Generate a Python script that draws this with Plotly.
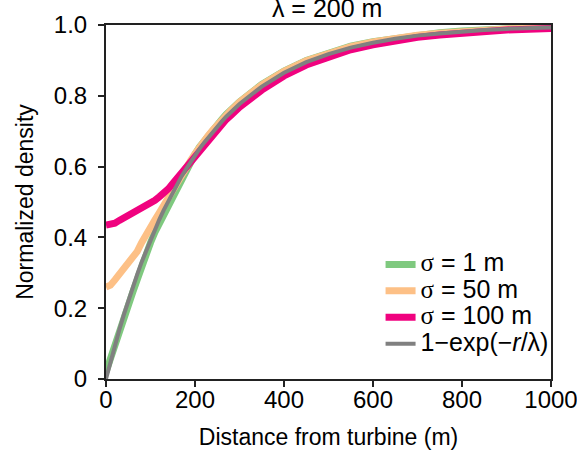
import plotly.graph_objects as go

# distance from turbine (m)
r = [0, 10, 20, 30, 40, 50, 60, 70, 80, 90, 100, 110, 120, 130, 140, 150,
     160, 170, 180, 190, 200, 210, 220, 230, 240, 250, 260, 270, 280, 290, 300,
     350, 400, 450, 500, 550, 600, 650, 700, 750, 800, 850, 900, 950, 1000]

sigma1 = [0.02, 0.06, 0.09, 0.13, 0.165, 0.21, 0.245, 0.28, 0.32, 0.35, 0.385,
          0.415, 0.44, 0.47, 0.495, 0.52, 0.545, 0.57, 0.59, 0.612, 0.635, 0.655,
          0.672, 0.688, 0.704, 0.718, 0.733, 0.747, 0.759, 0.771, 0.783,
          0.832, 0.870, 0.900, 0.922, 0.940, 0.953, 0.963, 0.972, 0.978, 0.983,
          0.987, 0.990, 0.992, 0.994]

sigma50 = [0.26, 0.265, 0.28, 0.295, 0.31, 0.325, 0.34, 0.36, 0.385, 0.41, 0.43,
           0.45, 0.47, 0.492, 0.513, 0.535, 0.555, 0.577, 0.598, 0.617, 0.636,
           0.655, 0.671, 0.688, 0.703, 0.718, 0.732, 0.746, 0.758, 0.770, 0.782,
           0.831, 0.869, 0.899, 0.921, 0.939, 0.952, 0.963, 0.971, 0.977, 0.982,
           0.986, 0.989, 0.991, 0.993]

sigma100 = [0.435, 0.437, 0.44, 0.448, 0.455, 0.46, 0.465, 0.472, 0.48, 0.488,
            0.497, 0.505, 0.515, 0.525, 0.537, 0.552, 0.567, 0.582, 0.598, 0.615,
            0.632, 0.648, 0.662, 0.677, 0.692, 0.705, 0.719, 0.733, 0.744, 0.756,
            0.768, 0.816, 0.856, 0.887, 0.911, 0.930, 0.944, 0.956, 0.965, 0.972,
            0.978, 0.983, 0.986, 0.988, 0.990]

theory = [0.0, 0.049, 0.095, 0.139, 0.181, 0.221, 0.259, 0.295, 0.330, 0.362,
          0.393, 0.423, 0.451, 0.478, 0.503, 0.528, 0.551, 0.573, 0.593, 0.613,
          0.632, 0.650, 0.667, 0.683, 0.699, 0.713, 0.727, 0.741, 0.753, 0.765,
          0.777, 0.826, 0.865, 0.895, 0.918, 0.936, 0.950, 0.961, 0.970, 0.976,
          0.982, 0.986, 0.989, 0.991, 0.993]

x_ticks = [0, 200, 400, 600, 800, 1000]
y_ticks = [0, 0.2, 0.4, 0.6, 0.8, 1.0]
y_ticktext = ["0", "0.2", "0.4", "0.6", "0.8", "1.0"]

FONT = "Liberation Sans, Arial, sans-serif"
SIG = "<span style='font-family:Liberation Serif'>σ</span>"


def big(t):
    return "<span style='font-size:25px'>" + t + "</span>"


fig = go.Figure()
fig.add_trace(go.Scatter(x=r, y=sigma1, mode="lines", name=big(SIG + " = 1 m"),
                         line=dict(color="#7fc97f", width=7)))
fig.add_trace(go.Scatter(x=r, y=sigma50, mode="lines", name=big(SIG + " = 50 m"),
                         line=dict(color="#fdc086", width=7)))
fig.add_trace(go.Scatter(x=r, y=sigma100, mode="lines", name=big(SIG + " = 100 m"),
                         line=dict(color="#f0027f", width=7)))
fig.add_trace(go.Scatter(x=r, y=theory, mode="lines",
                         name=big("1−exp(−<i>r</i>/λ)"),
                         line=dict(color="#808080", width=4)))

fig.update_layout(
    width=577, height=459,
    margin=dict(l=106, r=26, t=25, b=80, autoexpand=False),
    paper_bgcolor="white", plot_bgcolor="white",
    font=dict(family=FONT, color="black", size=19),
    title=dict(text="λ = 200 m", x=0.567, xanchor="center",
               y=0.982, yanchor="middle", font=dict(size=25)),
    showlegend=True,
    legend=dict(x=0.617, xanchor="left", y=0.375, yanchor="top",
                bgcolor="rgba(0,0,0,0)", font=dict(size=18),
                tracegroupgap=0),
)
fig.update_xaxes(range=[0, 1000], tickvals=x_ticks, showgrid=False, zeroline=False,
                 automargin=True, ticklabeloverflow="allow",
                 showline=True, mirror=True, linecolor="#222", linewidth=2,
                 ticks="outside", ticklen=6, tickwidth=2, tickcolor="#222",
                 tickfont=dict(size=24), ticklabelstandoff=-8,
                 title=dict(text="Distance from turbine (m)", font=dict(size=23),
                            standoff=17))
fig.update_yaxes(range=[0, 1], tickvals=y_ticks, ticktext=y_ticktext,
                 showgrid=False, zeroline=False, automargin=False,
                 ticklabeloverflow="allow",
                 showline=True, mirror=True, linecolor="#222", linewidth=2,
                 ticks="outside", ticklen=6, tickwidth=2, tickcolor="#222",
                 tickfont=dict(size=24), ticklabelstandoff=6,
                 title=dict(text="Normalized density", font=dict(size=23),
                            standoff=14))

fig.write_html("out.html", config={"displayModeBar": False},
               post_script="document.body.style.margin='0px';")
